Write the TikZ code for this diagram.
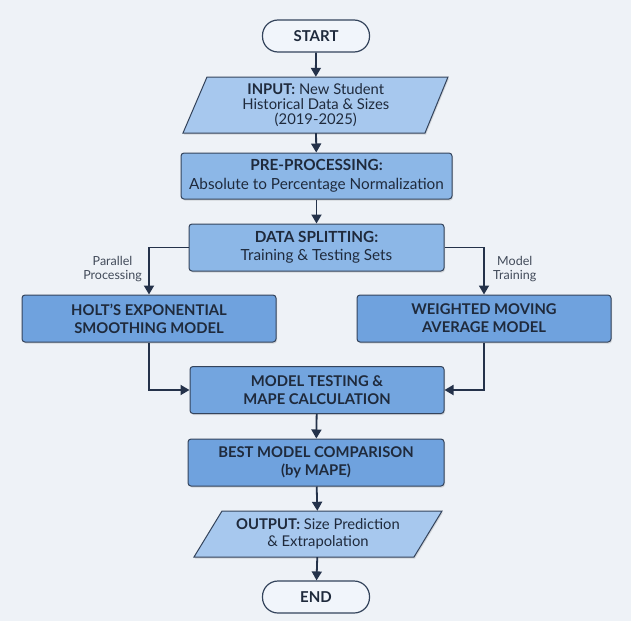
\documentclass[tikz,border=0pt]{standalone}
\usepackage{fontspec}
\setmainfont{Lato}
\usetikzlibrary{arrows.meta,shadows}
\definecolor{bgc}{HTML}{EEF2F7}
\definecolor{edgec}{HTML}{34445C}
\definecolor{txtc}{HTML}{1F2A3C}
\definecolor{darkbox}{HTML}{6FA2DE}
\definecolor{midbox}{HTML}{8CB7E7}
\definecolor{lightbox}{HTML}{A7C8EE}
\definecolor{pillc}{HTML}{F1F5FB}
\definecolor{linec}{HTML}{24324A}
\begin{document}
\begin{tikzpicture}[x=1pt,y=-1pt,
  box/.style={draw=edgec, line width=1pt, rounded corners=3pt, fill=#1, align=center,
    text=txtc, font=\fontsize{15.3}{18.5}\selectfont, inner sep=0pt,
    drop shadow={shadow xshift=1pt, shadow yshift=-1.5pt, opacity=0.25}},
  box/.default=darkbox,
  bbox/.style={box=#1, font=\bfseries\fontsize{14.8}{18}\selectfont},
  bbox/.default=darkbox,
  pill/.style={draw=edgec, line width=1.2pt, rounded corners=15.5pt, fill=pillc,
    text=txtc, font=\bfseries\fontsize{15}{17}\selectfont, minimum width=107pt, minimum height=32pt, inner sep=0pt},
  para/.style={draw=edgec, line width=1pt, fill=lightbox},
  paratext/.style={align=center, text=txtc, inner sep=0pt, font=\fontsize{14.8}{15.3}\selectfont},
  arr/.style={draw=linec, line width=1.8pt, -{Triangle[length=9pt,width=10pt]}},
  lab/.style={text=txtc!85, font=\fontsize{12.5}{14}\selectfont, align=center, inner sep=0pt}
]
\fill[bgc] (0,0) rectangle (631,621);
\useasboundingbox (0,0) rectangle (631,621);

% START
\node[pill] (start) at (316,36) {START};

% INPUT parallelogram
\draw[para, drop shadow={shadow xshift=1pt, shadow yshift=-1.5pt, opacity=0.25}]
  (207,77) -- (448,77) -- (425,133) -- (183,133) -- cycle;
\node[paratext, minimum width=241pt, minimum height=56pt] (input) at (315.75,105)
  {\textbf{INPUT:} New Student\\Historical Data \& Sizes\\(2019-2025)};

% PRE-PROCESSING
\node[box=midbox, minimum width=271pt, minimum height=46pt] (pre) at (316.5,176)
  {\textbf{PRE-PROCESSING:}\\Absolute to Percentage Normalization};

% DATA SPLITTING
\node[box=midbox, minimum width=255pt, minimum height=47pt] (split) at (316.5,247.5)
  {\textbf{DATA SPLITTING:}\\Training \& Testing Sets};

% Models
\node[bbox, minimum width=254pt, minimum height=47pt] (holt) at (149,318.5)
  {HOLT'S EXPONENTIAL\\SMOOTHING MODEL};
\node[bbox, minimum width=254pt, minimum height=47pt] (wma) at (484,318.5)
  {WEIGHTED MOVING\\AVERAGE MODEL};

% MODEL TESTING
\node[bbox=darkbox!85!midbox, minimum width=254pt, minimum height=47pt] (test) at (317,390)
  {MODEL TESTING \&\\MAPE CALCULATION};

% BEST MODEL
\node[bbox, minimum width=256pt, minimum height=47pt] (best) at (316,462.5)
  {BEST MODEL COMPARISON\\(by MAPE)};

% OUTPUT parallelogram
\draw[para, drop shadow={shadow xshift=1pt, shadow yshift=-1.5pt, opacity=0.25}]
  (222,511) -- (442,511) -- (414,557) -- (194,557) -- cycle;
\node[paratext, minimum width=220pt, minimum height=46pt, font=\fontsize{14.8}{17.5}\selectfont] (output) at (318,534)
  {\textbf{OUTPUT:} Size Prediction\\\& Extrapolation};

% END
\node[pill] (end) at (316,597) {END};

% connectors
\draw[arr] (start) -- (input);
\draw[arr] (input) -- (pre);
\draw[arr] (pre) -- (split);
\draw[arr] (split.west) -| (holt.north);
\draw[arr] (split.east) -| (wma.north);
\draw[arr] (holt.south) |- (test.west);
\draw[arr] (wma.south) |- (test.east);
\draw[arr] (test) -- (best);
\draw[arr] (best) -- (output);
\draw[arr] (output) -- (end);

% labels
\node[lab, anchor=east] (lpar) at (142,269) {Parallel\\Processing};
\node[lab, anchor=west] (ltrain) at (493,269) {Model\\Training};
\end{tikzpicture}
\end{document}
